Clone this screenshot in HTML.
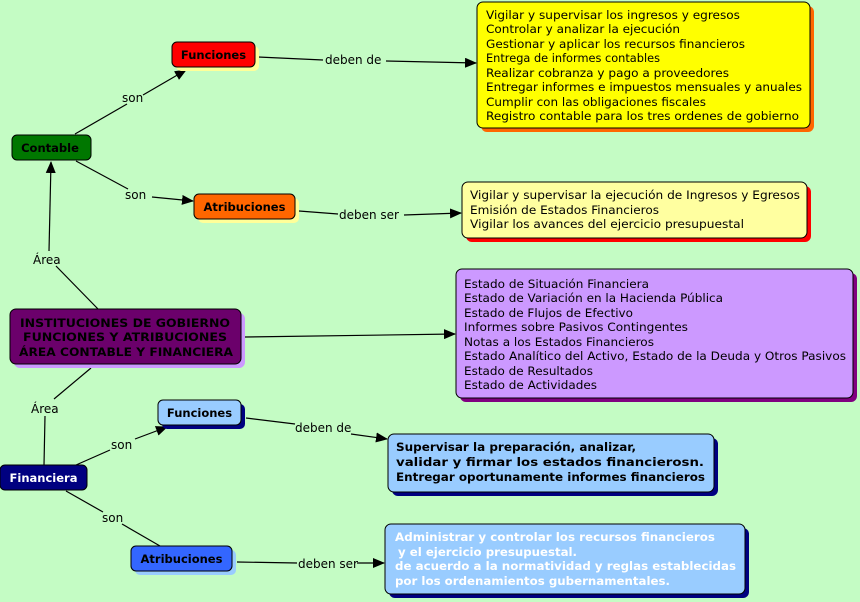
<!DOCTYPE html>
<html><head><meta charset="utf-8"><style>
html,body{margin:0;padding:0;background:#c4fcc4;}
svg{display:block;font-family:"DejaVu Sans","Liberation Sans",sans-serif;}
.t{font-size:11.5px;fill:#000;}
.b{font-size:11.5px;font-weight:bold;}
.l{font-size:12px;fill:#000;}
</style></head><body>
<svg width="860" height="602" viewBox="0 0 860 602" xmlns="http://www.w3.org/2000/svg">
<defs><marker id="a" markerWidth="12" markerHeight="10" refX="11" refY="5" orient="auto" markerUnits="userSpaceOnUse"><path d="M0,0 L12,5 L0,10 z" fill="#000"/></marker></defs>
<rect width="860" height="602" fill="#c4fcc4"/>
<g stroke="#000" stroke-width="1.2" fill="none">
<line x1="75" y1="134" x2="127" y2="104"/><line x1="143" y1="95" x2="186" y2="70" marker-end="url(#a)"/>
<line x1="76" y1="161" x2="128" y2="189"/><line x1="152" y1="197" x2="193" y2="201" marker-end="url(#a)"/>
<line x1="258" y1="57" x2="323" y2="60"/><line x1="386" y1="61" x2="476" y2="63" marker-end="url(#a)"/>
<line x1="299" y1="211" x2="338" y2="214"/><line x1="404" y1="215" x2="461" y2="213" marker-end="url(#a)"/>
<line x1="49" y1="251" x2="51" y2="162" marker-end="url(#a)"/><line x1="56" y1="266" x2="98" y2="309"/>
<line x1="245" y1="337" x2="455" y2="334" marker-end="url(#a)"/>
<line x1="91" y1="368" x2="54" y2="399"/><line x1="45" y1="416" x2="44" y2="465"/>
<line x1="76" y1="465" x2="110" y2="450"/><line x1="135" y1="439" x2="167" y2="427" marker-end="url(#a)"/>
<line x1="66" y1="491" x2="103" y2="512"/><line x1="122" y1="524" x2="160" y2="546"/>
<line x1="246" y1="418" x2="295" y2="424"/><line x1="351" y1="434" x2="387" y2="439" marker-end="url(#a)"/>
<line x1="237" y1="562" x2="297" y2="563"/><line x1="357" y1="563" x2="384" y2="563" marker-end="url(#a)"/>
</g>
<g class="l">
<text x="122" y="102">son</text><text x="125" y="199">son</text>
<text x="325" y="64">deben de</text><text x="339" y="219">deben ser</text>
<text x="33" y="264">Área</text><text x="31" y="413">Área</text>
<text x="111" y="449">son</text><text x="102" y="522">son</text>
<text x="295" y="432">deben de</text><text x="298" y="568">deben ser</text>
</g>
<g stroke="#000" stroke-width="1">
<rect x="176" y="46" width="83" height="25" rx="5" fill="#ffff99" stroke="none"/>
<rect x="172" y="42" width="83" height="25" rx="5" fill="#ff0000"/>
<rect x="12" y="135" width="79" height="25" rx="5" fill="#007700"/>
<rect x="198" y="198" width="101" height="25" rx="5" fill="#ffff99" stroke="none"/>
<rect x="194" y="194" width="101" height="25" rx="5" fill="#ff6600"/>
<rect x="481" y="6" width="333" height="126" rx="6" fill="#ff6600" stroke="none"/>
<rect x="477" y="2" width="333" height="126" rx="6" fill="#ffff00"/>
<rect x="466" y="186" width="345" height="56" rx="6" fill="#ff0000" stroke="none"/>
<rect x="462" y="182" width="345" height="56" rx="6" fill="#ffffa0"/>
<rect x="460" y="273" width="397" height="129" rx="6" fill="#800080" stroke="none"/>
<rect x="456" y="269" width="397" height="129" rx="6" fill="#cc99ff"/>
<rect x="14" y="313" width="231" height="55" rx="6" fill="#cc99ff" stroke="none"/>
<rect x="10" y="309" width="231" height="55" rx="6" fill="#6b006b"/>
<rect x="162" y="404" width="83" height="25" rx="5" fill="#000080" stroke="none"/>
<rect x="158" y="400" width="83" height="25" rx="5" fill="#99ccff"/>
<rect x="0" y="465" width="87" height="25" rx="5" fill="#000080"/>
<rect x="135" y="550" width="101" height="25" rx="5" fill="#99ccff" stroke="none"/>
<rect x="131" y="546" width="101" height="25" rx="5" fill="#3366ff"/>
<rect x="392" y="438" width="326" height="58" rx="6" fill="#000080" stroke="none"/>
<rect x="388" y="434" width="326" height="58" rx="6" fill="#99ccff"/>
<rect x="389" y="528" width="360" height="70" rx="6" fill="#000080" stroke="none"/>
<rect x="385" y="524" width="360" height="70" rx="6" fill="#99ccff"/>
</g>
<g class="b">
<text x="213.5" y="59" text-anchor="middle">Funciones</text>
<text x="50" y="152" text-anchor="middle">Contable</text>
<text x="244.5" y="211" text-anchor="middle">Atribuciones</text>
<text x="199.5" y="417" text-anchor="middle">Funciones</text>
<text x="43.5" y="482" text-anchor="middle" fill="#fff">Financiera</text>
<text x="181.5" y="563" text-anchor="middle">Atribuciones</text>
<text x="20" y="327" textLength="210" lengthAdjust="spacingAndGlyphs">INSTITUCIONES DE GOBIERNO</text>
<text x="23" y="341" textLength="204" lengthAdjust="spacingAndGlyphs">FUNCIONES Y ATRIBUCIONES</text>
<text x="19" y="356" textLength="214" lengthAdjust="spacingAndGlyphs">ÁREA CONTABLE Y FINANCIERA</text>
<text x="396" y="451" textLength="240" lengthAdjust="spacingAndGlyphs">Supervisar la preparación, analizar,</text>
<text x="396" y="466" textLength="308" lengthAdjust="spacingAndGlyphs">validar y firmar los estados financierosn.</text>
<text x="396" y="481" textLength="309" lengthAdjust="spacingAndGlyphs">Entregar oportunamente informes financieros</text>
<g fill="#fff">
<text x="395" y="541" textLength="320" lengthAdjust="spacingAndGlyphs">Administrar y controlar los recursos financieros</text>
<text x="398" y="556" textLength="179" lengthAdjust="spacingAndGlyphs">y el ejercicio presupuestal.</text>
<text x="395" y="570" textLength="341" lengthAdjust="spacingAndGlyphs">de acuerdo a la normatividad y reglas establecidas</text>
<text x="395" y="585" textLength="275" lengthAdjust="spacingAndGlyphs">por los ordenamientos gubernamentales.</text>
</g>
</g>
<g class="t">
<text x="486" y="19" textLength="254" lengthAdjust="spacingAndGlyphs">Vigilar y supervisar los ingresos y egresos</text>
<text x="486" y="33" textLength="194" lengthAdjust="spacingAndGlyphs">Controlar y analizar la ejecución</text>
<text x="486" y="48" textLength="259" lengthAdjust="spacingAndGlyphs">Gestionar y aplicar los recursos financieros</text>
<text x="486" y="62" textLength="174" lengthAdjust="spacingAndGlyphs">Entrega de informes contables</text>
<text x="486" y="77" textLength="243" lengthAdjust="spacingAndGlyphs">Realizar cobranza y pago a proveedores</text>
<text x="486" y="91" textLength="316" lengthAdjust="spacingAndGlyphs">Entregar informes e impuestos mensuales y anuales</text>
<text x="486" y="106" textLength="220" lengthAdjust="spacingAndGlyphs">Cumplir con las obligaciones fiscales</text>
<text x="486" y="120" textLength="313" lengthAdjust="spacingAndGlyphs">Registro contable para los tres ordenes de gobierno</text>
<text x="470" y="199" textLength="330" lengthAdjust="spacingAndGlyphs">Vigilar y supervisar la ejecución de Ingresos y Egresos</text>
<text x="470" y="214" textLength="189" lengthAdjust="spacingAndGlyphs">Emisión de Estados Financieros</text>
<text x="470" y="228" textLength="274" lengthAdjust="spacingAndGlyphs">Vigilar los avances del  ejercicio presupuestal</text>
<text x="464" y="288" textLength="185" lengthAdjust="spacingAndGlyphs">Estado de Situación Financiera</text>
<text x="464" y="302" textLength="259" lengthAdjust="spacingAndGlyphs">Estado de Variación en la Hacienda Pública</text>
<text x="464" y="317" textLength="169" lengthAdjust="spacingAndGlyphs">Estado de Flujos de Efectivo</text>
<text x="464" y="331" textLength="224" lengthAdjust="spacingAndGlyphs">Informes sobre Pasivos Contingentes</text>
<text x="464" y="346" textLength="190" lengthAdjust="spacingAndGlyphs">Notas a los Estados Financieros</text>
<text x="464" y="360" textLength="382" lengthAdjust="spacingAndGlyphs">Estado Analítico del Activo, Estado de la Deuda y Otros Pasivos</text>
<text x="464" y="375" textLength="129" lengthAdjust="spacingAndGlyphs">Estado de Resultados</text>
<text x="464" y="389" textLength="133" lengthAdjust="spacingAndGlyphs">Estado de Actividades</text>
</g>
</svg>
</body></html>
